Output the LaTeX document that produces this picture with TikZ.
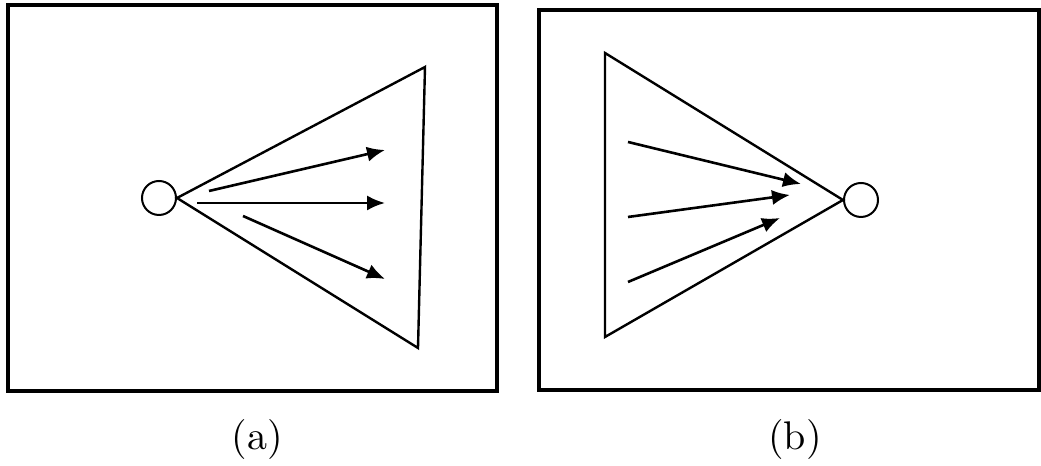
\documentclass[tikz,border=0pt]{standalone}
\usepackage{tikz}
\usetikzlibrary{arrows.meta,positioning}

\begin{document}
\begin{tikzpicture}[x=0.25pt, y=-0.25pt,
    frame/.style={draw, line width=0.8pt},
    cone/.style={draw, line width=0.6pt, line join=miter},
    port/.style={circle, draw, line width=0.5pt, minimum size=8.5pt, inner sep=0pt},
    ray/.style={-{Latex[length=4.5pt,width=3.8pt]}, line width=0.65pt}]
  \useasboundingbox (0,0) rectangle (1041,466);
  % panel (a): diverging
  \draw[frame] (8,5) rectangle (497,391);
  \node[port] (srcA) at (159,198) {};
  \coordinate (topA) at (425,67);
  \coordinate (botA) at (418,348);
  \draw[cone] (srcA.east) -- (topA) -- (botA) -- cycle;
  \coordinate (a1s) at (209,191);
  \coordinate (a1e) at (385,150);
  \coordinate (a2s) at (197,203);
  \coordinate (a2e) at (385,203);
  \coordinate (a3s) at (243,216);
  \coordinate (a3e) at (385,279);
  \draw[ray] (a1s) -- (a1e);
  \draw[ray] (a2s) -- (a2e);
  \draw[ray] (a3s) -- (a3e);
  \node (capA) at (257,440) {(a)};
  % panel (b): converging
  \draw[frame] (539,10) rectangle (1039,390);
  \node[port] (snkB) at (861,200) {};
  \coordinate (topB) at (605,53);
  \coordinate (botB) at (605,337);
  \draw[cone] (snkB.west) -- (topB) -- (botB) -- cycle;
  \coordinate (b1s) at (628,142);
  \coordinate (b1e) at (801,184);
  \coordinate (b2s) at (628,217);
  \coordinate (b2e) at (790,195);
  \coordinate (b3s) at (628,282);
  \coordinate (b3e) at (780,218);
  \draw[ray] (b1s) -- (b1e);
  \draw[ray] (b2s) -- (b2e);
  \draw[ray] (b3s) -- (b3e);
  \node (capB) at (795,440) {(b)};
\end{tikzpicture}
\end{document}
